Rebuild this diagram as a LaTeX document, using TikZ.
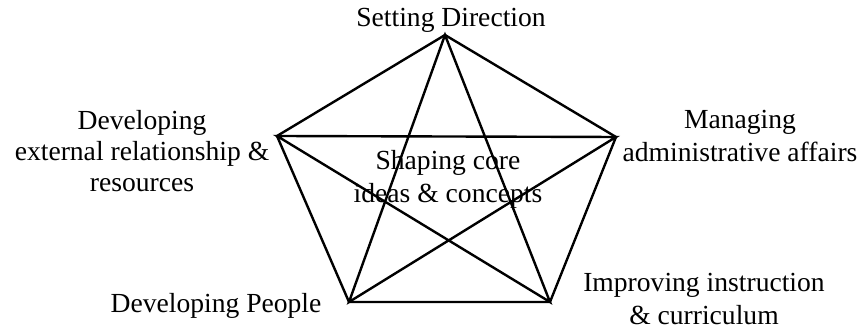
\documentclass[tikz,border=0pt]{standalone}
\usepackage{fontspec}
\setmainfont{Liberation Serif}
\begin{document}
\begin{tikzpicture}[x=0.5pt,y=-0.5pt,
  lbl/.style={font=\fontsize{13.8}{16.5}\selectfont, align=center, inner sep=0pt, anchor=base},
  edge/.style={line width=1.2pt, line join=miter}]
\useasboundingbox (0,0) rectangle (863,330);
\coordinate (T) at (445,35);
\coordinate (L) at (277,136);
\coordinate (R) at (616,137);
\coordinate (BL) at (349,302);
\coordinate (BR) at (550,302);
\draw[edge] (T) -- (R) -- (BR) -- (BL) -- (L) -- cycle;
\draw[edge] (T) -- (BL) -- (R) -- (L) -- (BR) -- cycle;
\node[lbl] (sd) at (451,27) {Setting Direction};
\node[lbl, font=\fontsize{13.8}{15.5}\selectfont] (der) at (142,192) {Developing\\external relationship \&\\resources};
\node[lbl] (maa) at (740,162) {Managing\\administrative affairs};
\node[lbl] (sci) at (448,203) {Shaping core\\ideas \& concepts};
\node[lbl] (dp) at (216,313) {Developing People};
\node[lbl] (iic) at (704,325) {Improving instruction\\\& curriculum};
\end{tikzpicture}
\end{document}
